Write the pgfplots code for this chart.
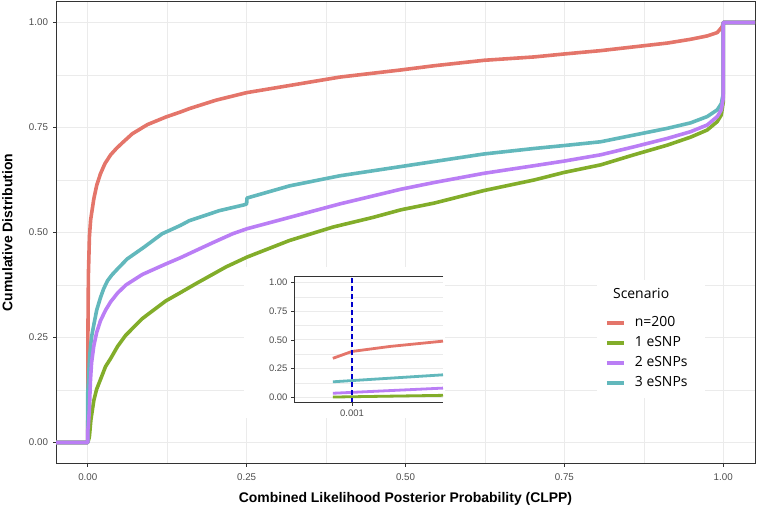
\documentclass[border=0pt]{standalone}
\usepackage{pgfplots}
\pgfplotsset{compat=1.18}
\usepackage{fontspec}
\setmainfont{Liberation Sans}
\newfontfamily\legfont{Open Sans}
\definecolor{cRed}{HTML}{E4756A}
\definecolor{cGreen}{HTML}{82AD2A}
\definecolor{cPurple}{HTML}{BA7EF5}
\definecolor{cTeal}{HTML}{62B8BC}
\definecolor{grid92}{HTML}{EBEBEB}
\definecolor{grey20}{HTML}{333333}
\definecolor{grey30}{HTML}{4D4D4D}
\begin{document}
\begin{tikzpicture}
\useasboundingbox (0,0) rectangle (757bp,508bp);
\begin{axis}[
  at={(56bp,44.5bp)}, anchor=south west, width=699bp, height=462bp, scale only axis,
  xmin=-0.05, xmax=1.05, ymin=-0.05, ymax=1.05,
  xtick={0,0.25,0.5,0.75,1}, xticklabels={0.00,0.25,0.50,0.75,1.00},
  ytick={0,0.25,0.5,0.75,1}, yticklabels={0.00,0.25,0.50,0.75,1.00},
  minor xtick={0.125,0.375,0.625,0.875}, minor ytick={0.125,0.375,0.625,0.875},
  grid=both,
  major grid style={grid92, line width=1.1bp},
  minor grid style={grid92, line width=0.6bp},
  tick pos=left, tick align=outside, major tick length=3bp, minor tick length=0bp,
  tick style={grey20, line width=0.8bp},
  axis line style={grey20, line width=0.9bp},
  ticklabel style={font=\fontsize{9.8}{11}\selectfont, text=grey30},
  xticklabel style={yshift=-4bp},
  yticklabel style={xshift=-1.5bp},
  xlabel={Combined Likelihood Posterior Probability (CLPP)},
  ylabel={Cumulative Distribution},
  label style={font=\fontsize{14}{16}\selectfont\bfseries, text=black},
  xlabel style={at={(axis description cs:0.5,-0.077)}, anchor=center},
  ylabel style={at={(axis description cs:-0.0694,0.5)}, anchor=center},
  legend image code/.code={\draw[#1, line width=4bp] (0bp,0bp) -- (17bp,0bp);},
  legend style={at={(axis description cs:0.785,0.322)}, anchor=north west, draw=none, fill=none,
    font=\legfont\fontsize{14}{16}\selectfont, row sep=4.5bp, inner sep=0pt,
    cells={anchor=west, text height=10bp, text depth=2bp},
    /tikz/every odd column/.append style={column sep=7bp}},
  legend cell align=left,
  every axis plot/.append style={line width=3.6bp, line join=round},
]
% white backgrounds of the inset and of the legend
\fill[white] (axis cs:0.246,0.058) rectangle (axis cs:0.562,0.418);
\fill[white] (axis cs:0.801,0.106) rectangle (axis cs:0.971,0.387);

\addplot[cRed, forget plot] coordinates {
(-0.05,0) (0,0) (0.0002,0.25) (0.00067,0.34) (0.001,0.40) (0.0026,0.49) (0.0045,0.53)
(0.0095,0.58) (0.014,0.612) (0.02,0.64) (0.027,0.664) (0.036,0.685) (0.045,0.700) (0.054,0.713) (0.07,0.735) (0.094,0.757)
(0.123,0.775) (0.146,0.787) (0.16,0.795) (0.2017,0.815) (0.25,0.833) (0.3175,0.850)
(0.3965,0.870) (0.4927,0.887) (0.545,0.897) (0.6237,0.910) (0.7023,0.918) (0.7495,0.925)
(0.8071,0.933) (0.8595,0.942) (0.912,0.951) (0.9486,0.960) (0.9748,0.968) (0.9906,0.976)
(0.9984,0.99) (1,1) (1.05,1)};

\addplot[cGreen, forget plot] coordinates {
(-0.05,0) (0,0) (0.002,0.01) (0.0026,0.015) (0.005,0.055) (0.0095,0.10) (0.014,0.127) (0.02,0.15) (0.028,0.181)
(0.036,0.20) (0.047,0.229) (0.0595,0.255) (0.0858,0.295) (0.1227,0.337) (0.146,0.357) (0.170,0.378)
(0.2175,0.418) (0.2507,0.4415) (0.3175,0.481) (0.386,0.513) (0.449,0.536) (0.4927,0.554)
(0.545,0.570) (0.6237,0.600) (0.7023,0.625) (0.7495,0.643) (0.8071,0.661) (0.8595,0.685)
(0.912,0.708) (0.9486,0.727) (0.9748,0.744) (0.9906,0.764) (0.997,0.780) (1,0.81)
(1,1) (1.05,1)};

\addplot[cTeal, forget plot] coordinates {
(-0.05,0) (0,0) (0,0.12) (0.0005,0.13) (0.00067,0.135) (0.0026,0.196) (0.0043,0.23)
(0.0065,0.256) (0.0095,0.28) (0.014,0.315) (0.02,0.345) (0.025,0.366) (0.031,0.385) (0.038,0.399) (0.046,0.412) (0.062,0.437) (0.0885,0.465)
(0.117,0.497) (0.146,0.517) (0.1596,0.528) (0.207,0.552) (0.2465,0.566) (0.25,0.568)
(0.2505,0.582) (0.3175,0.611) (0.3965,0.635) (0.4927,0.657) (0.545,0.669) (0.6237,0.687)
(0.7023,0.700) (0.7495,0.707) (0.8071,0.716) (0.8595,0.732) (0.912,0.748) (0.9486,0.761)
(0.9748,0.776) (0.9906,0.792) (0.997,0.807) (1,0.83) (1,1) (1.05,1)};

\addplot[cPurple, forget plot] coordinates {
(-0.05,0) (0,0) (0,0.03) (0.00067,0.035) (0.0026,0.08) (0.0035,0.12) (0.0043,0.15) (0.006,0.19) (0.0095,0.23)
(0.014,0.262) (0.02,0.29) (0.028,0.315) (0.036,0.335) (0.047,0.356) (0.06,0.375) (0.0858,0.40) (0.1227,0.425) (0.146,0.440)
(0.170,0.457) (0.2,0.478) (0.228,0.497) (0.2507,0.509) (0.3175,0.536) (0.3965,0.568) (0.4927,0.603)
(0.545,0.619) (0.6237,0.641) (0.7023,0.659) (0.7495,0.670) (0.8071,0.685) (0.8595,0.704)
(0.912,0.724) (0.9486,0.740) (0.9748,0.756) (0.9906,0.776) (0.997,0.792) (1,0.82)
(1,1) (1.05,1)};

\addlegendimage{cRed}\addlegendentry{n=200}
\addlegendimage{cGreen}\addlegendentry{1 eSNP}
\addlegendimage{cPurple}\addlegendentry{2 eSNPs}
\addlegendimage{cTeal}\addlegendentry{3 eSNPs}

\node[font=\legfont\fontsize{14}{16}\selectfont, anchor=base west, inner sep=0pt]
  at (axis cs:0.8264,0.344) {Scenario};
\end{axis}

% inset
\begin{axis}[
  at={(294bp,105bp)}, anchor=south west, width=149bp, height=126bp, scale only axis,
  xmin=0, xmax=0.00257, ymin=-0.05, ymax=1.05,
  xtick={0.001}, xticklabels={0.001}, scaled x ticks=false,
  ytick={0,0.25,0.5,0.75,1}, yticklabels={0.00,0.25,0.50,0.75,1.00},
  minor ytick={0.125,0.375,0.625,0.875},
  ymajorgrids, yminorgrids, xmajorgrids,
  major grid style={grid92, line width=1bp},
  minor grid style={grid92, line width=0.5bp},
  axis background/.style={fill=white},
  axis line style={draw=none},
  tick pos=left, tick align=outside, major tick length=3bp, minor tick length=0bp,
  tick style={grey20, line width=0.8bp},
  ticklabel style={font=\fontsize{9.5}{10}\selectfont, text=grey30},
  every axis plot/.append style={line width=2.8bp},
]
\addplot[cRed] coordinates {(0.00067,0.34) (0.001,0.40) (0.00166,0.444) (0.00257,0.49)};
\addplot[cTeal] coordinates {(0.00067,0.135) (0.00257,0.196)};
\addplot[cPurple] coordinates {(0.00067,0.035) (0.00257,0.08)};
\addplot[cGreen] coordinates {(0.00067,0.002) (0.00257,0.017)};
\addplot[blue!80!black, line width=1.6bp, dash pattern=on 5bp off 3bp] coordinates {(0.001,-0.05) (0.001,1.05)};
\draw[grey20, line width=1bp] (rel axis cs:1,1) -- (rel axis cs:0,1) -- (rel axis cs:0,0) -- (rel axis cs:1,0);
\end{axis}
\end{tikzpicture}
\end{document}
